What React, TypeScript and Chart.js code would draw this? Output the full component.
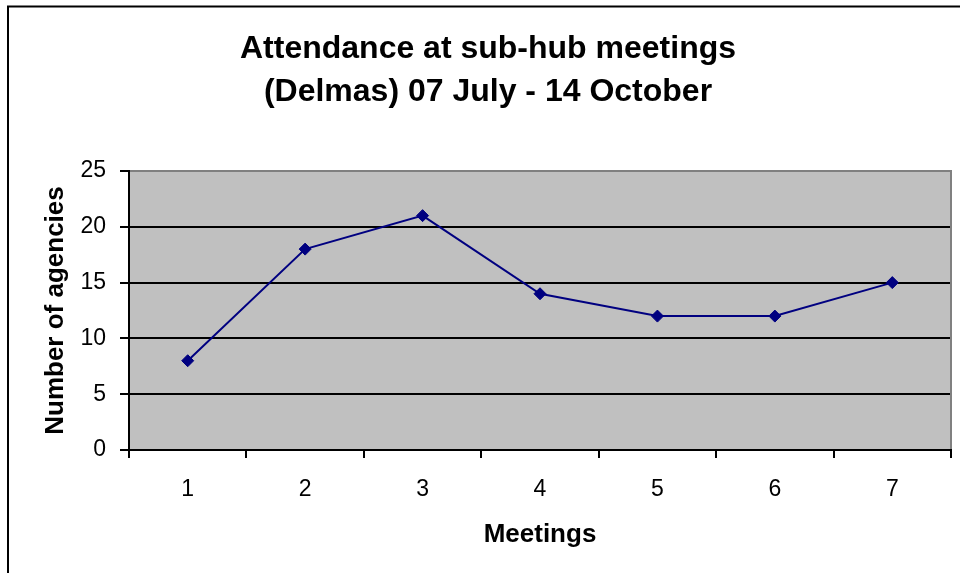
import React, { useEffect, useRef } from "react";
import { Chart, registerables } from "chart.js";

Chart.register(...registerables);

const titleLines = ["Attendance at sub-hub meetings", "(Delmas) 07 July - 14 October"];
const meetings = ["1", "2", "3", "4", "5", "6", "7"];
const agencies = [8, 18, 21, 14, 12, 12, 15];
const yTitle = "Number of agencies";
const xTitle = "Meetings";

const FONT = "'Liberation Sans', Arial, Helvetica, sans-serif";

const framePlugin = {
  id: "frame",
  beforeDraw(chart: any) {
    const { ctx, chartArea } = chart;
    ctx.save();
    ctx.fillStyle = "#ffffff";
    ctx.fillRect(0, 0, chart.width, chart.height);
    ctx.fillStyle = "#C0C0C0";
    ctx.fillRect(chartArea.left, chartArea.top, chartArea.right - chartArea.left, chartArea.bottom - chartArea.top);
    ctx.restore();
  },
  afterDraw(chart: any) {
    const { ctx, chartArea } = chart;
    ctx.save();
    ctx.strokeStyle = "#808080";
    ctx.lineWidth = 2;
    ctx.beginPath();
    ctx.moveTo(chartArea.left + 1, chartArea.top);
    ctx.lineTo(chartArea.right, chartArea.top);
    ctx.lineTo(chartArea.right, chartArea.bottom - 1);
    ctx.stroke();
    ctx.strokeStyle = "#000000";
    ctx.lineWidth = 2;
    ctx.strokeRect(8, 6.5, 2000, 2000);
    ctx.restore();
  },
};

export default function App() {
  const ref = useRef<HTMLCanvasElement>(null);
  useEffect(() => {
    if (!ref.current) return;
    const chart = new Chart(ref.current, {
      type: "line",
      data: {
        labels: meetings,
        datasets: [
          {
            data: agencies,
            borderColor: "#000080",
            borderWidth: 2,
            pointStyle: "rectRot",
            pointRadius: 6,
            pointBackgroundColor: "#000080",
            pointBorderColor: "#000080",
            pointBorderWidth: 1,
            tension: 0,
          },
        ],
      },
      options: {
        responsive: false,
        animation: false,
        devicePixelRatio: 1,
        layout: { padding: { left: 25, right: 9, top: 0, bottom: 0 } },
        plugins: {
          legend: { display: false },
          tooltip: { enabled: false },
          title: {
            display: true,
            text: titleLines,
            color: "#000",
            font: { family: FONT, size: 32, weight: "bold", lineHeight: 43 / 32 },
            padding: { top: 27.5, bottom: 57.5 },
          },
        },
        scales: {
          x: {
            type: "category",
            offset: true,
            afterFit: (s: any) => {
              s.height = 123;
            },
            grid: {
              offset: true,
              drawOnChartArea: false,
              drawTicks: true,
              tickLength: 8,
              color: "#000",
              lineWidth: 2,
            },
            border: { display: true, color: "#000", width: 2 },
            ticks: {
              color: "#000",
              padding: 18,
              font: { family: FONT, size: 23 },
              maxRotation: 0,
            },
            title: {
              display: true,
              text: xTitle,
              color: "#000",
              font: { family: FONT, size: 26, weight: "bold" },
              padding: { top: 0, bottom: 23 },
            },
          },
          y: {
            min: 0,
            max: 25,
            afterFit: (s: any) => {
              s.width = 104;
            },
            ticks: {
              stepSize: 5,
              color: "#000",
              padding: 14,
              font: { family: FONT, size: 23 },
            },
            grid: {
              color: "#000",
              lineWidth: 2,
              drawTicks: true,
              tickLength: 9,
            },
            border: { display: true, color: "#000", width: 2 },
            title: {
              display: true,
              text: yTitle,
              color: "#000",
              font: { family: FONT, size: 26, weight: "bold" },
              padding: { top: 15, bottom: 0 },
            },
          },
        },
      },
      plugins: [framePlugin],
    });
    return () => chart.destroy();
  }, []);
  return (
    <canvas
      ref={ref}
      width={960}
      height={573}
      style={{ position: "absolute", left: 0, top: 0, width: 960, height: 573 }}
    />
  );
}
